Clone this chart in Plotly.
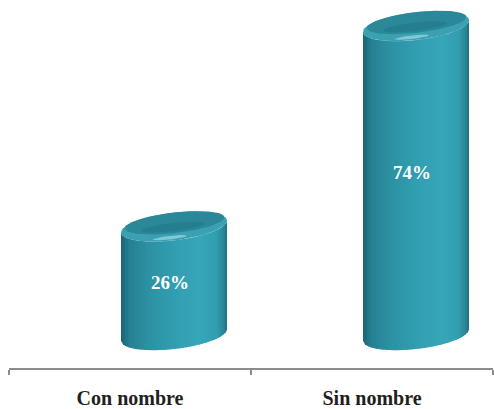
import numpy as np
import plotly.graph_objects as go

# ---- data ----
categories = ["Con nombre", "Sin nombre"]
values = [26, 74]
value_labels = ["26%", "74%"]

# ---- geometry (pixel-derived constants for the 3D cylinder look) ----
W, H = 494, 409
ML, MR, MT, MB = 9, 1, 0, 41
plot_w = W - ML - MR
plot_h = H - MT - MB
xr = [-0.5, 1.5]
px_per_x = plot_w / (xr[1] - xr[0])
px_per_y = 4.175
ymin = -(plot_h - 335) / px_per_y
yr = [ymin, ymin + plot_h / px_per_y]

A = 53 / px_per_x           # half width of cylinder
B = 14 / px_per_y           # half height of ellipse
K = 0.11 * px_per_x / px_per_y  # shear (right side higher)
OFF = 44 / px_per_x         # 3D offset to the right
EPS = 1.2 / px_per_x

stops_u = [-1.0, -0.85, -0.5, 0.0, 0.5, 0.8, 0.93, 1.0]
stops_c = [(25, 100, 115), (38, 128, 145), (44, 145, 162), (50, 158, 177),
           (54, 166, 185), (50, 158, 176), (42, 135, 152), (32, 110, 125)]


def body_color(u):
    c = [np.interp(u, stops_u, [s[i] for s in stops_c]) for i in range(3)]
    return "rgb(%d,%d,%d)" % tuple(int(round(v)) for v in c)


def front(cy, u):
    return cy - B * np.sqrt(np.clip(1 - (u / A) ** 2, 0, 1)) + K * u


def ellipse(cx, cy, a, b, n=90):
    t = np.linspace(0, 2 * np.pi, n)
    return cx + a * np.cos(t), cy + b * np.sin(t) + K * a * np.cos(t)


def poly(fig, xs, ys, col):
    fig.add_trace(go.Scatter(x=xs, y=ys, xaxis="x2", yaxis="y", mode="lines",
                             fill="toself", fillcolor=col, line=dict(width=0),
                             hoverinfo="skip", showlegend=False))


fig = go.Figure()

# invisible trace to populate category axis
fig.add_trace(go.Scatter(x=categories, y=[0, 0], mode="markers",
                         marker=dict(opacity=0), hoverinfo="skip", showlegend=False))

N = 48
for i, v in enumerate(values):
    cx = i + OFF
    edges = np.linspace(-A, A, N + 1)
    for j in range(N):
        u0, u1 = edges[j], edges[j + 1]
        col = body_color((u0 + u1) / 2 / A)
        u1e = min(u1 + EPS, A)
        us = np.linspace(u0, u1e, 4)
        xs = list(cx + us) + list(cx + us[::-1])
        ys = list(front(0, us)) + list(front(v, us[::-1]))
        poly(fig, xs, ys, col)
    # cap: rim
    ex, ey = ellipse(cx, v, A, B)
    poly(fig, ex, ey, "rgb(58,160,178)")
    # cap: top surface
    ex, ey = ellipse(cx + 0.01 * A, v + 0.26 * B, A * 0.94, B * 0.74)
    poly(fig, ex, ey, "rgb(42,136,153)")
    # darker zone behind the front rim
    ex, ey = ellipse(cx - 0.02 * A, v - 0.05 * B, A * 0.6, B * 0.3)
    fig.add_trace(go.Scatter(x=ex, y=ey, xaxis="x2", yaxis="y", mode="lines", fill="toself",
                             fillcolor="rgba(30,110,125,0.35)", line=dict(width=0),
                             hoverinfo="skip", showlegend=False))
    # highlight on front rim
    ex, ey = ellipse(cx - 0.08 * A, v - 0.8 * B, A * 0.32, B * 0.13)
    fig.add_trace(go.Scatter(x=ex, y=ey, xaxis="x2", yaxis="y", mode="lines", fill="toself",
                             fillcolor="rgba(190,235,242,0.55)", line=dict(width=0),
                             hoverinfo="skip", showlegend=False))
    fig.add_annotation(x=cx - 4 / px_per_x, y=0.55 * v - 1.8, xref="x2", yref="y",
                       text="<b>%s</b>" % value_labels[i], showarrow=False,
                       font=dict(family="Liberation Serif", size=19, color="white"))

fig.update_layout(
    width=W, height=H,
    margin=dict(l=ML, r=MR, t=MT, b=MB),
    paper_bgcolor="white", plot_bgcolor="white",
    showlegend=False,
    xaxis=dict(type="category", range=xr, tickson="boundaries", ticks="outside",
               ticklen=5, tickwidth=1.5, tickcolor="#8c8c8c",
               showline=True, linecolor="#8c8c8c", linewidth=1.5,
               showgrid=False, zeroline=False, ticklabelstandoff=11,
               tickfont=dict(family="Liberation Serif", size=20, color="#231f20"),
               tickvals=categories, ticktext=["<b>%s</b>" % c for c in categories]),
    xaxis2=dict(overlaying="x", range=xr, visible=False, showgrid=False, zeroline=False),
    yaxis=dict(range=yr, visible=False, showgrid=False, zeroline=False),
)

fig.write_html("out.html", config={"displayModeBar": False, "staticPlot": True},
               post_script="document.body.style.margin='0';document.body.style.overflow='hidden';")
